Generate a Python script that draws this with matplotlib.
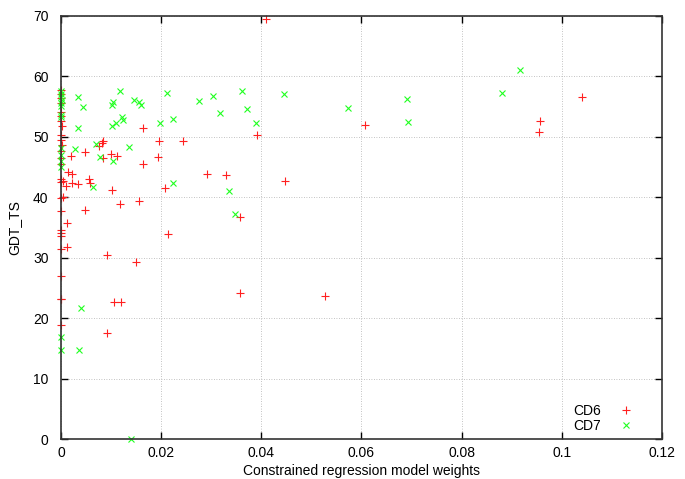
import matplotlib
matplotlib.use("Agg")
import matplotlib.pyplot as plt
import numpy as np

# CD6 points (weight, GDT_TS)
cd6_x = [0.0409, 0.1041, 0.0956, 0.0954, 0.0608, 0.0448, 0.0391, 0.0357, 0.0357, 0.0528,
         0.0329, 0.0292, 0.0244, 0.0208, 0.0214, 0.0196, 0.0194, 0.0163, 0.0163, 0.0156,
         0.0150, 0.0118, 0.0119, 0.0106, 0.0101, 0.0112, 0.0100, 0.0091, 0.0091, 0.0083,
         0.0081, 0.0076, 0.0083, 0.0058, 0.0056, 0.0047, 0.0047, 0.0034, 0.0023, 0.0023,
         0.0021, 0.0014, 0.0012, 0.0012, 0.0011, 0.0005, 0.0003, 0.0002,
         0.0, 0.0, 0.0, 0.0, 0.0, 0.0, 0.0, 0.0, 0.0, 0.0, 0.0, 0.0,
         0.0, 0.0, 0.0, 0.0, 0.0, 0.0, 0.0, 0.0, 0.0, 0.0, 0.0, 0.0, 0.0005]
cd6_y = [69.5, 56.6, 52.6, 50.7, 51.9, 42.6, 50.2, 36.7, 24.2, 23.6,
         43.7, 43.9, 49.3, 41.5, 33.9, 49.3, 46.7, 51.4, 45.4, 39.4,
         29.3, 38.9, 22.7, 22.6, 41.2, 46.8, 47.1, 30.5, 17.5, 49.3,
         48.9, 48.4, 46.4, 42.4, 43.0, 47.4, 37.9, 42.1, 43.9, 42.4,
         46.8, 44.2, 35.8, 31.8, 41.9, 42.7, 48.6, 51.7,
         57.7, 57.1, 56.4, 55.5, 54.0, 52.6, 50.3, 49.5, 47.6, 46.5, 45.5, 43.0,
         42.5, 39.9, 37.7, 34.5, 34.0, 33.6, 31.4, 27.0, 23.1, 23.2, 18.8, 53.4, 40.0]

# CD7 points
cd7_x = [0.0916, 0.0880, 0.0690, 0.0693, 0.0573, 0.0445, 0.0389, 0.0371, 0.0361, 0.0317,
         0.0304, 0.0275, 0.0224, 0.0211, 0.0198, 0.0159, 0.0156, 0.0146, 0.0136, 0.0124,
         0.0121, 0.0118, 0.0110, 0.0103, 0.0104, 0.0102, 0.0102, 0.0078, 0.0069, 0.0064,
         0.0043, 0.0035, 0.0035, 0.0028, 0.0224, 0.0335, 0.0348, 0.0040, 0.0036, 0.0139,
         0.0, 0.0, 0.0, 0.0003, 0.0, 0.0, 0.0, 0.0, 0.0, 0.0, 0.0, 0.0, 0.0, 0.0]
cd7_y = [61.0, 57.2, 56.3, 52.4, 54.7, 57.0, 52.3, 54.5, 57.6, 53.9,
         56.7, 55.9, 52.9, 57.3, 52.2, 55.2, 55.8, 56.1, 48.3, 52.8,
         53.3, 57.5, 52.3, 46.0, 55.8, 55.3, 51.7, 46.7, 48.8, 41.7,
         54.9, 56.5, 51.4, 47.9, 42.4, 41.0, 37.2, 21.7, 14.7, 0.0,
         57.5, 57.0, 56.5, 56.0, 55.5, 55.0, 53.6, 53.2, 48.2, 47.0, 46.0, 45.0, 16.9, 14.7]

xticks = [0, 0.02, 0.04, 0.06, 0.08, 0.1, 0.12]
xticklabels = ["0", "0.02", "0.04", "0.06", "0.08", "0.1", "0.12"]
yticks = [0, 10, 20, 30, 40, 50, 60, 70]

plt.rcParams['font.family'] = ['Liberation Sans', 'DejaVu Sans']

fig = plt.figure(figsize=(6.85, 4.79), dpi=100)
ax = fig.add_axes([0.089, 0.0835, 0.8774, 0.8837])

ax.plot(cd6_x, cd6_y, linestyle="none", marker="+", color="#ff2020",
        markersize=6, markeredgewidth=0.8, label="CD6", clip_on=False)
ax.plot(cd7_x, cd7_y, linestyle="none", marker="x", color="#20ff20",
        markersize=5, markeredgewidth=0.8, label="CD7", clip_on=False)

ax.set_xlim(0, 0.12)
ax.set_ylim(0, 70)
ax.set_xticks(xticks)
ax.set_xticklabels(xticklabels)
ax.set_yticks(yticks)
ax.tick_params(direction="in", top=True, right=True, length=5, labelsize=10, width=1)
ax.tick_params(axis="y", pad=9)
ax.tick_params(axis="x", pad=5)
ax.grid(True, linestyle=(0, (1, 2)), color="#b0b0b0", linewidth=0.6)
ax.set_axisbelow(True)
for s in ax.spines.values():
    s.set_linewidth(1.2)
    s.set_color("#333333")

ax.set_xlabel("Constrained regression model weights", fontsize=10, labelpad=3)
ax.set_ylabel("GDT_TS", fontsize=10, labelpad=8)

leg = ax.legend(loc="lower right", frameon=False, fontsize=10, markerfirst=False,
                handletextpad=0.8, labelspacing=0.05, borderaxespad=0.2,
                bbox_to_anchor=(0.977, -0.005))

fig.savefig("out.png", dpi=100)
